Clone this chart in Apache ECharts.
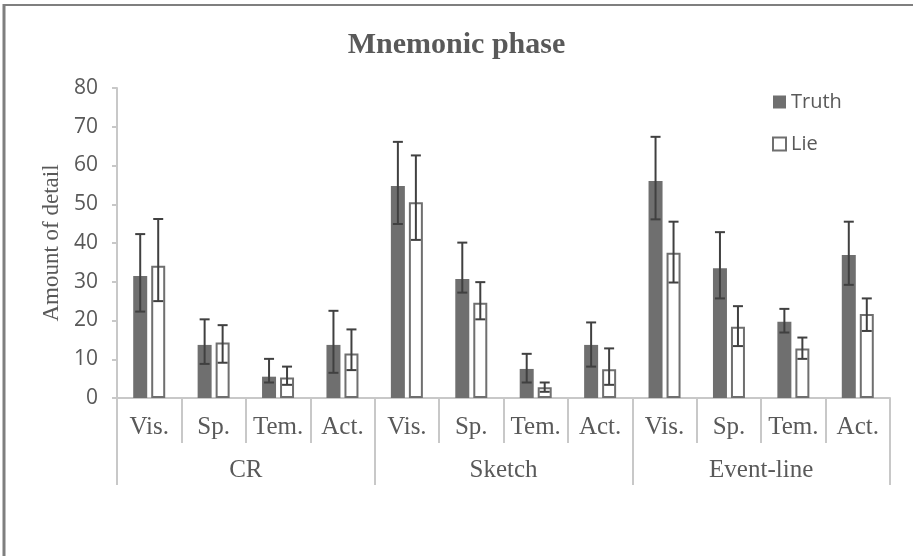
<!DOCTYPE html>
<html>
<head>
<meta charset="utf-8">
<script src="https://cdn.jsdelivr.net/npm/echarts@6/dist/echarts.min.js"></script>
<style>
  html, body { margin: 0; padding: 0; background: #fff; }
  #chart { width: 913px; height: 556px; }
</style>
</head>
<body>
<div id="chart"></div>
<script>
var categories = ['Vis.', 'Sp.', 'Tem.', 'Act.', 'Vis.', 'Sp.', 'Tem.', 'Act.', 'Vis.', 'Sp.', 'Tem.', 'Act.'];
var groups = ['CR', 'Sketch', 'Event-line'];
var yTicks = [0, 10, 20, 30, 40, 50, 60, 70, 80];

var truth     = [31.5, 13.7, 5.5, 13.7, 54.7, 30.7, 7.5, 13.7, 56.0, 33.5, 19.7, 36.9];
var truthLow  = [22.3, 8.8, 4.0, 6.5, 44.9, 27.2, 4.0, 8.1, 46.1, 25.7, 16.9, 29.2];
var truthHigh = [42.3, 20.3, 10.1, 22.5, 66.1, 40.1, 11.4, 19.5, 67.4, 42.8, 23.0, 45.5];

var lie     = [34.1, 14.3, 5.3, 11.5, 50.5, 24.6, 2.8, 7.4, 37.5, 18.4, 12.8, 21.7];
var lieLow  = [25.0, 9.1, 3.4, 7.2, 40.8, 20.3, 1.6, 3.4, 29.8, 13.4, 10.1, 17.3];
var lieHigh = [46.2, 18.8, 8.1, 17.7, 62.6, 29.9, 4.0, 12.8, 45.5, 23.7, 15.6, 25.7];

var BAR_W = 14, BAR_GAP = 4;
var TEXT = '#595959';
var DARK = '#6f6f6f';
var ERR = '#404040';
var AXIS = '#c8c8c8';

function errData(low, high) {
  return low.map(function (l, i) { return [i, l, high[i]]; });
}
function errRender(offset) {
  return function (params, api) {
    var x = api.coord([api.value(0), 0])[0] + offset;
    var lo = api.coord([api.value(0), api.value(1)])[1];
    var hi = api.coord([api.value(0), api.value(2)])[1];
    var cap = 5;
    var st = { stroke: ERR, lineWidth: 2 };
    return {
      type: 'group',
      children: [
        { type: 'line', shape: { x1: x, y1: lo, x2: x, y2: hi }, style: st },
        { type: 'line', shape: { x1: x - cap, y1: hi, x2: x + cap, y2: hi }, style: st },
        { type: 'line', shape: { x1: x - cap, y1: lo, x2: x + cap, y2: lo }, style: st }
      ]
    };
  };
}

var chart = echarts.init(document.getElementById('chart'));
var off = (BAR_W + BAR_GAP) / 2;
chart.setOption({
  animation: false,
  backgroundColor: '#fff',
  title: {
    text: 'Mnemonic phase',
    left: 'center',
    top: 25,
    textStyle: { fontFamily: 'Liberation Serif', fontWeight: 'bold', fontSize: 30, color: TEXT }
  },
  legend: {
    orient: 'vertical',
    left: 767,
    top: 87,
    itemWidth: 13,
    itemHeight: 13,
    itemGap: 22,
    textStyle: { fontFamily: 'Open Sans', fontSize: 20, color: TEXT },
    data: [
      { name: 'Truth', icon: 'rect', itemStyle: { color: DARK, borderWidth: 0 } },
      { name: 'Lie', icon: 'rect', itemStyle: { color: '#fff', borderColor: DARK, borderWidth: 2 } }
    ]
  },
  graphic: [
    { type: 'line', shape: { x1: 4, y1: 4, x2: 4, y2: 556 }, style: { stroke: '#7f7f7f', lineWidth: 3 } },
    { type: 'line', shape: { x1: 3, y1: 5, x2: 913, y2: 5 }, style: { stroke: '#7f7f7f', lineWidth: 2 } }
  ],
  grid: { left: 117, right: 23, top: 88, bottom: 158 },
  xAxis: [
    {
      type: 'category',
      data: categories,
      position: 'bottom',
      axisLine: { show: true, lineStyle: { color: AXIS, width: 2 } },
      axisTick: { show: true, interval: 0, length: 45, lineStyle: { color: AXIS, width: 2 } },
      axisLabel: { interval: 0, margin: 17, fontFamily: 'Liberation Serif', fontSize: 25, color: TEXT }
    },
    {
      type: 'category',
      data: groups,
      position: 'bottom',
      axisLine: { show: false },
      axisTick: { show: true, interval: 0, length: 87, lineStyle: { color: AXIS, width: 2 } },
      axisLabel: { interval: 0, margin: 60, fontFamily: 'Liberation Serif', fontSize: 25, color: TEXT }
    }
  ],
  yAxis: {
    type: 'value',
    min: yTicks[0],
    max: yTicks[yTicks.length - 1],
    interval: 10,
    name: 'Amount of detail',
    nameLocation: 'middle',
    nameGap: 53,
    nameRotate: 90,
    nameTextStyle: { fontFamily: 'Liberation Serif', fontSize: 23, color: TEXT },
    axisLine: { show: true, lineStyle: { color: AXIS, width: 2 } },
    axisTick: { show: true, length: 5, lineStyle: { color: AXIS, width: 2 } },
    splitLine: { show: false },
    axisLabel: { margin: 19, fontFamily: 'Open Sans', fontSize: 21, color: TEXT }
  },
  series: [
    {
      name: 'Truth', type: 'bar', data: truth, barWidth: BAR_W, barGap: (BAR_GAP / BAR_W * 100) + '%',
      itemStyle: { color: DARK }
    },
    {
      name: 'Lie', type: 'bar', data: lie, barWidth: BAR_W,
      itemStyle: { color: '#fff', borderColor: DARK, borderWidth: 2 }
    },
    {
      name: 'TruthErr', type: 'custom', data: errData(truthLow, truthHigh),
      encode: { x: 0, y: [1, 2] }, renderItem: errRender(-off), z: 5, silent: true
    },
    {
      name: 'LieErr', type: 'custom', data: errData(lieLow, lieHigh),
      encode: { x: 0, y: [1, 2] }, renderItem: errRender(off), z: 5, silent: true
    }
  ]
});
</script>
</body>
</html>
